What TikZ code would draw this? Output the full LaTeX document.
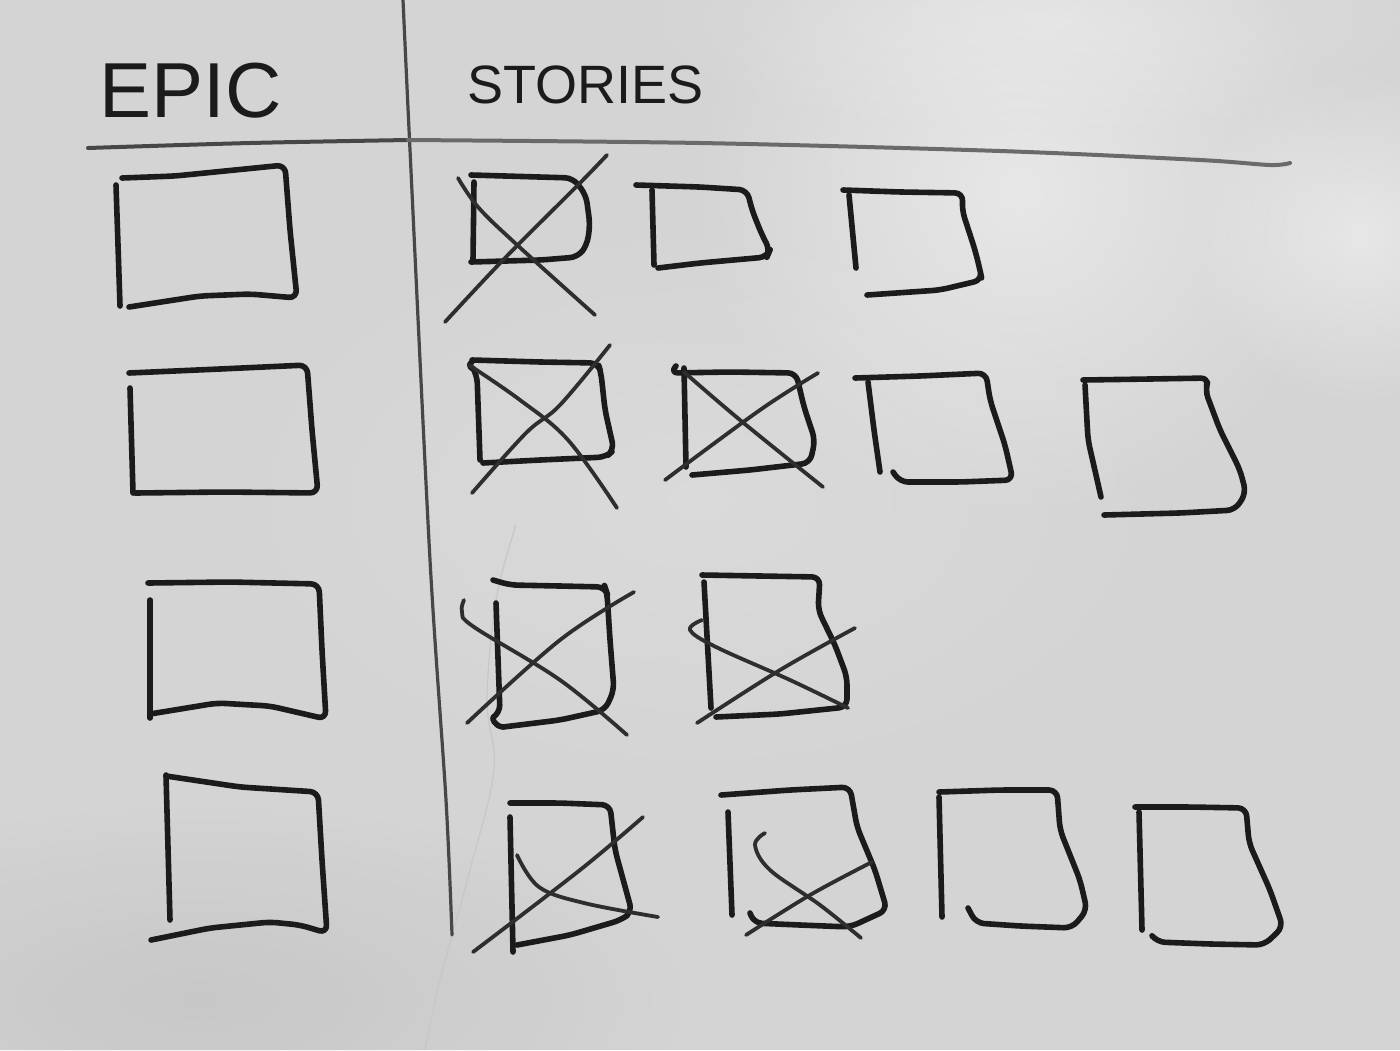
\documentclass[tikz,border=0pt]{standalone}
\usepackage{fontspec}
\setmainfont{Liberation Sans}
\usetikzlibrary{fadings}
\definecolor{board}{HTML}{D4D4D4}
\definecolor{ink}{HTML}{1B1B1B}
\definecolor{inkb}{HTML}{2E2E2E}
\definecolor{rulec}{HTML}{474747}
\definecolor{rulel}{HTML}{6A6A6A}
\tikzfading[name=glow, inner color=transparent!0, outer color=transparent!100]
\tikzset{
  mk/.style={draw=ink, line width=2.8pt, line cap=round, line join=round, rounded corners=4pt},
  xmk/.style={draw=inkb, line width=1.9pt, line cap=round, line join=round},
  lbl/.style={text=ink, inner sep=0pt, anchor=base west}
}
\begin{document}
\begin{tikzpicture}[x=0.5pt,y=-0.5pt]
\useasboundingbox (0,0) rectangle (1400,1050);
% board
\fill[board] (0,0) rectangle (1400,1050);
\fill[white, opacity=0.45, path fading=glow] (1020,190) circle (330);
\fill[white, opacity=0.45, path fading=glow] (1360,235) circle (170);
\fill[white, opacity=0.25, path fading=glow] (1050,20) ellipse (420 and 120);
\fill[white, opacity=0.15, path fading=glow] (700,500) ellipse (500 and 300);
\fill[black, opacity=0.06, path fading=glow] (200,1000) ellipse (500 and 200);

% faint trace
\draw[draw=black!22, line width=0.6pt] plot[smooth, tension=0.6] coordinates {(516,525) (496,600) (487,700) (494,770) (470,870) (440,980) (425,1050)};

% headings
\node[lbl, font=\fontsize{39}{40}\selectfont] (epic) at (99,117) {EPIC};
\node[lbl, font=\fontsize{27}{28}\selectfont] (stories) at (467,103) {STORIES};

% rules
\draw[draw=rulec, line width=1.6pt, line cap=round] plot[smooth, tension=0.5] coordinates {(403,0) (410,150) (430,560) (446,800) (452,935)};
\draw[draw=rulec, line width=2pt, line cap=round] plot[smooth, tension=0.5] coordinates {(88,148) (250,143) (408,140)};
\draw[draw=rulel, line width=2pt, line cap=round] plot[smooth, tension=0.5] coordinates {(408,140) (700,143) (1000,151) (1200,160) (1270,165) (1290,163)};

% ---- epic boxes ----
\draw[mk] (116,185) -- (118,245) -- (120,306);
\draw[mk] (122,178) -- (175,176) -- (285,165) -- (290,230) -- (297,298) -- (250,294) -- (200,296) -- (129,307);

\draw[mk] (130,388) -- (133,493);
\draw[mk] (129,373) -- (220,369) -- (307,365) -- (312,430) -- (318,493) -- (225,492) -- (135,493);

\draw[mk] (150,600) -- (150,718);
\draw[mk] (148,583) -- (230,582) -- (319,584) -- (322,650) -- (326,719) -- (270,706) -- (217,703) -- (150,714);

\draw[mk] (166,775) -- (170,920);
\draw[mk] (166,776) -- (240,787) -- (318,792) -- (322,860) -- (327,933) -- (300,925) -- (270,922) -- (210,928) -- (151,940);

% ---- stories row 1 ----
\draw[mk] (474,182) -- (473,260);
\draw[mk] (471,175) -- (573,178) -- (586,195) -- (590,225) -- (587,245) -- (578,257) -- (541,260) -- (471,262);
\draw[xmk] plot[smooth, tension=0.6] coordinates {(458,178) (478,207) (515,243) (595,315)};
\draw[xmk] plot[smooth, tension=0.6] coordinates {(607,155) (578,185) (505,258) (445,322)};

\draw[mk] (652,190) -- (654,265);
\draw[mk] (636,185) -- (700,187) -- (747,190) -- (752,210) -- (762,235) -- (770,250) -- (767,257) -- (700,263) -- (658,268);

\draw[mk] (849,195) -- (856,268);
\draw[mk] (843,190) -- (900,192) -- (963,193) -- (962,210) -- (975,250) -- (980,270) -- (982,280) -- (940,290) -- (867,295);

% ---- stories row 2 ----
\draw[mk] (472,362) .. controls (466,366) and (474,370) .. (477,375) -- (480,460);
\draw[mk] (472,360) -- (540,362) -- (598,363) -- (601,373) -- (605,410) -- (614,450) -- (606,457) -- (540,460) -- (483,463);
\draw[xmk] plot[smooth, tension=0.6] coordinates {(469,365) (520,400) (568,440) (617,508)};
\draw[xmk] plot[smooth, tension=0.6] coordinates {(610,345) (560,405) (526,433) (472,493)};

\draw[mk] (684,368) -- (686,467);
\draw[mk] (676,366) -- (670,373) -- (730,372) -- (796,373) -- (804,407) -- (815,440) -- (810,463) -- (750,470) -- (692,475);
\draw[xmk] plot[smooth, tension=0.6] coordinates {(684,372) (740,420) (823,487)};
\draw[xmk] plot[smooth, tension=0.6] coordinates {(818,373) (760,410) (665,480)};

\draw[mk] (868,382) -- (874,430) -- (880,472);
\draw[mk] (855,378) -- (920,376) -- (986,373) -- (990,400) -- (1005,445) -- (1013,480) -- (960,482) -- (900,482) -- (893,472);

\draw[mk] (1085,385) -- (1088,440) -- (1101,497);
\draw[mk] (1083,380) -- (1150,379) -- (1209,378) -- (1205,390) -- (1220,430) -- (1240,470) -- (1246,493) -- (1235,510) -- (1180,513) -- (1104,515);

% ---- stories row 3 ----
\draw[mk] (496,603) -- (500,713) .. controls (492,718) and (494,726) .. (503,727);
\draw[mk] (493,580) -- (510,585) -- (560,586) -- (605,587) -- (607,593) -- (610,640) -- (614,690) -- (605,710) -- (560,720) -- (503,727);
\draw[xmk] plot[smooth, tension=0.6] coordinates {(464,600) (462,612) (474,627) (560,680) (627,735)};
\draw[xmk] plot[smooth, tension=0.6] coordinates {(634,592) (560,640) (467,723)};

\draw[mk] (704,582) -- (711,708);
\draw[mk] (702,575) -- (760,576) -- (820,577) -- (818,610) -- (835,645) -- (847,677) -- (847,707) -- (780,714) -- (716,717);
\draw[xmk] plot[smooth, tension=0.6] coordinates {(702,620) (690,630) (716,647) (790,680) (848,708)};
\draw[xmk] plot[smooth, tension=0.6] coordinates {(855,628) (780,670) (697,723)};

% ---- stories row 4 ----
\draw[mk] (510,817) -- (513,952);
\draw[mk] (510,803) -- (560,803) -- (610,805) -- (615,850) -- (632,912) -- (621,920) -- (570,935) -- (517,945);
\draw[xmk] plot[smooth, tension=0.6] coordinates {(517,855) (539,887) (584,903) (658,917)};
\draw[xmk] plot[smooth, tension=0.6] coordinates {(643,817) (580,870) (473,952)};

\draw[mk] (728,812) -- (732,915);
\draw[mk] (721,795) -- (790,790) -- (850,787) -- (857,827) -- (875,870) -- (887,910) -- (850,927) -- (800,925) -- (754,923) -- (750,913);
\draw[xmk] plot[smooth, tension=0.6] coordinates {(765,833) (755,845) (770,870) (820,905) (861,938)};
\draw[xmk] plot[smooth, tension=0.6] coordinates {(872,862) (810,895) (746,935)};

\draw[mk] (939,797) -- (942,917);
\draw[mk] (939,792) -- (1000,790) -- (1057,790) -- (1060,830) -- (1080,880) -- (1087,910) -- (1072,928) -- (1020,926) -- (976,923) -- (968,908);

\draw[mk] (1139,812) -- (1142,930);
\draw[mk] (1135,807) -- (1190,807) -- (1246,808) -- (1249,843) -- (1270,890) -- (1283,927) -- (1264,945) -- (1210,944) -- (1157,942) -- (1153,937);
\end{tikzpicture}
\end{document}
